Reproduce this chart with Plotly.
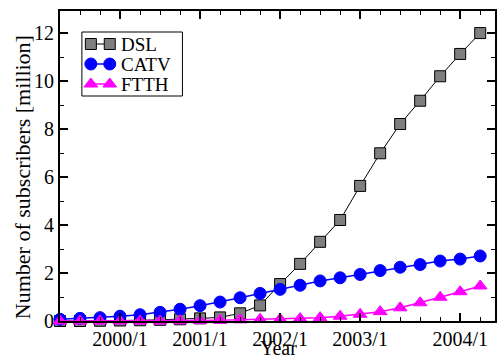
import plotly.graph_objects as go

# Quarterly samples, indexed 0..21 along the x axis
idx = list(range(22))
tick_pos = [3, 7, 11, 15, 20]
tick_labels = ["2000/1", "2001/1", "2002/1", "2003/1", "2004/1"]

dsl = [0.0, 0.0, 0.01, 0.02, 0.03, 0.05, 0.07, 0.11, 0.15, 0.32, 0.65,
       1.54, 2.38, 3.30, 4.21, 5.63, 6.99, 8.21, 9.18, 10.20, 11.13, 12.00]
catv = [0.07, 0.11, 0.14, 0.20, 0.26, 0.36, 0.49, 0.64, 0.79, 0.97, 1.15,
        1.32, 1.49, 1.67, 1.80, 1.94, 2.10, 2.24, 2.35, 2.50, 2.58, 2.71]
ftth = [0.0, 0.0, 0.0, 0.0, 0.0, 0.0, 0.01, 0.02, 0.03, 0.05, 0.07,
        0.08, 0.10, 0.14, 0.20, 0.28, 0.39, 0.55, 0.76, 0.99, 1.22, 1.46]

series_names = ["DSL", "CATV", "FTTH"]

FONT = "Liberation Serif"
W, H = 498, 360
M = dict(l=60, r=1, t=11, b=39)
PW, PH = W - M["l"] - M["r"], H - M["t"] - M["b"]

styles = {
    "DSL": dict(line=dict(color="black", width=1),
                marker=dict(symbol="square", size=11, color="#7f7f7f",
                            line=dict(color="black", width=1))),
    "CATV": dict(line=dict(color="#0000ff", width=1.5),
                 marker=dict(symbol="circle", size=12, color="#0000ff",
                             line=dict(color="#0000ff", width=1))),
    "FTTH": dict(line=dict(color="#ff00ff", width=1.5),
                 marker=dict(symbol="triangle-up", size=12, color="#ff00ff",
                             line=dict(color="#ff00ff", width=1))),
}

fig = go.Figure()
for name, values in zip(series_names, [dsl, catv, ftth]):
    fig.add_trace(go.Scatter(
        x=idx, y=values, name=name, mode="lines+markers", cliponaxis=False,
        showlegend=False, **styles[name],
    ))

# Boxed key in the upper left, drawn on a pixel-scaled overlay axis pair
# (origin at the plot's lower-left corner) so each row shows a short line
# capped by a marker at both ends.
KEY_BOX = dict(x0=22, x1=123, y0=225, y1=289)
KEY_ROWS = [277, 257, 237]
KEY_SYM_X = [31, 50]
KEY_TEXT_X = 59

fig.add_shape(type="rect", xref="x2", yref="y2", layer="below",
              line=dict(color="black", width=1), fillcolor="white",
              **KEY_BOX)
for name, ry in zip(series_names, KEY_ROWS):
    fig.add_trace(go.Scatter(
        x=KEY_SYM_X, y=[ry, ry], xaxis="x2", yaxis="y2",
        mode="lines+markers", cliponaxis=False, showlegend=False,
        hoverinfo="skip", **styles[name],
    ))
    fig.add_annotation(x=KEY_TEXT_X, y=ry, xref="x2", yref="y2",
                       text=name, showarrow=False, xanchor="left",
                       yanchor="middle", height=18,
                       font=dict(family=FONT, size=19, color="black"))

# Axis titles placed as annotations in paper coordinates
fig.add_annotation(x=-0.087, y=0.4645, xref="paper", yref="paper",
                   text="Number of subscribers [million]", textangle=-90,
                   showarrow=False, xanchor="center", yanchor="middle",
                   font=dict(family=FONT, size=22, color="black"))
fig.add_annotation(x=0.5034, y=-0.0887, xref="paper", yref="paper",
                   text="Year", showarrow=False, xanchor="center",
                   yanchor="middle", height=18,
                   font=dict(family=FONT, size=20, color="black"))

fig.update_layout(
    width=W, height=H,
    margin=M,
    paper_bgcolor="white", plot_bgcolor="white",
    font=dict(family=FONT, size=20, color="black"),
    showlegend=False,
    xaxis=dict(
        range=[0, 21.74], showgrid=False, zeroline=False,
        showline=True, linecolor="black", linewidth=2, mirror="allticks",
        ticks="inside", ticklen=8, tickwidth=1.5, tickcolor="black",
        tickmode="array", tickvals=tick_pos, ticktext=tick_labels,
        ticklabelstandoff=-1,
        minor=dict(ticks="inside", ticklen=4, tickwidth=1, tickcolor="black",
                   tickmode="array", tickvals=idx),
        tickfont=dict(family=FONT, size=20, color="black"),
    ),
    yaxis=dict(
        range=[0, 12.92], showgrid=False, zeroline=False,
        showline=True, linecolor="black", linewidth=2, mirror="allticks",
        ticks="inside", ticklen=8, tickwidth=1.5, tickcolor="black",
        tickmode="linear", tick0=0, dtick=2,
        minor=dict(ticks="inside", ticklen=4, tickwidth=1, tickcolor="black",
                   dtick=1),
        tickfont=dict(family=FONT, size=20, color="black"),
    ),
    xaxis2=dict(overlaying="x", anchor="y2", range=[0, PW], visible=False,
                fixedrange=True),
    yaxis2=dict(overlaying="y", anchor="x2", range=[0, PH], visible=False,
                fixedrange=True),
)

fig.write_html("out.html")
